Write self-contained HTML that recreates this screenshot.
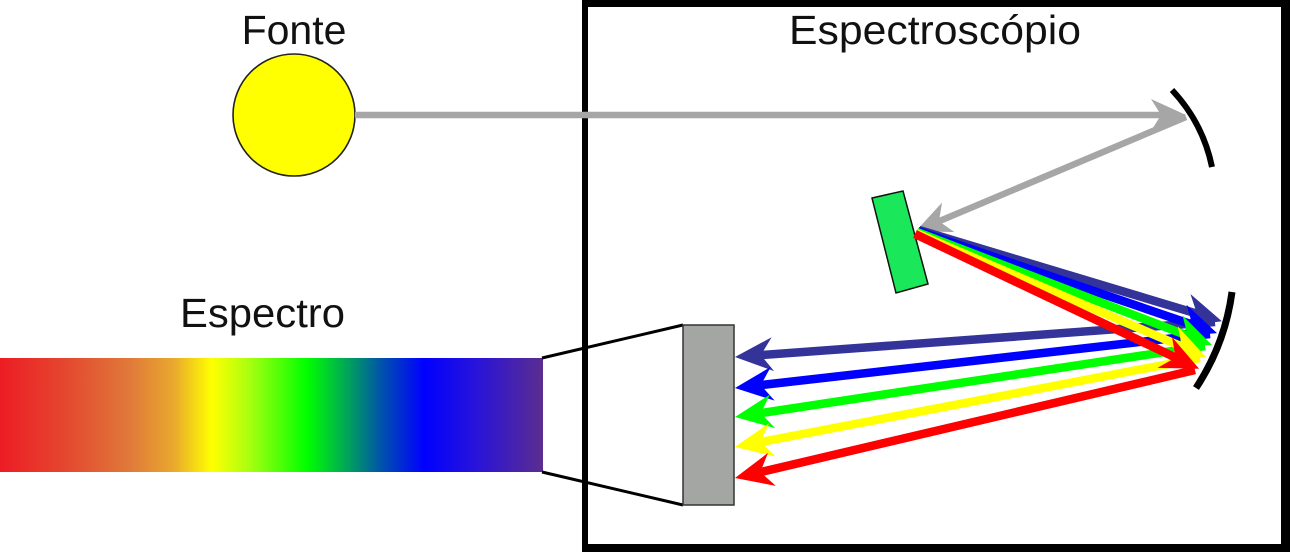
<!DOCTYPE html>
<html>
<head>
<meta charset="utf-8">
<style>
html,body{margin:0;padding:0;background:#fff;}
body{width:1290px;height:552px;overflow:hidden;}
svg{display:block;}
text{font-family:"Liberation Sans",Arial,sans-serif;fill:#111;}
</style>
</head>
<body>
<svg width="1290" height="552" viewBox="0 0 1290 552" xmlns="http://www.w3.org/2000/svg">
<defs>
  <linearGradient id="spec" x1="0" y1="0" x2="1" y2="0">
    <stop offset="0" stop-color="#ed1c24"/>
    <stop offset="0.12" stop-color="#e4472f"/>
    <stop offset="0.24" stop-color="#e07a3a"/>
    <stop offset="0.32" stop-color="#e9a82e"/>
    <stop offset="0.39" stop-color="#ffff00"/>
    <stop offset="0.46" stop-color="#a8ff10"/>
    <stop offset="0.565" stop-color="#00ff00"/>
    <stop offset="0.64" stop-color="#00a45a"/>
    <stop offset="0.70" stop-color="#0055a8"/>
    <stop offset="0.78" stop-color="#0000ff"/>
    <stop offset="0.88" stop-color="#2a14d8"/>
    <stop offset="1" stop-color="#5b2d8f"/>
  </linearGradient>
  <marker id="mNavy" markerUnits="userSpaceOnUse" markerWidth="80" markerHeight="80" viewBox="-40 -40 80 80" refX="0" refY="0" orient="auto" overflow="visible">
    <path d="M26,0 L-12,-17 L0,0 L-12,17 Z" fill="#333399"/>
  </marker>
  <marker id="mBlue" markerUnits="userSpaceOnUse" markerWidth="80" markerHeight="80" viewBox="-40 -40 80 80" refX="0" refY="0" orient="auto" overflow="visible">
    <path d="M26,0 L-12,-17 L0,0 L-12,17 Z" fill="#0000ff"/>
  </marker>
  <marker id="mGreen" markerUnits="userSpaceOnUse" markerWidth="80" markerHeight="80" viewBox="-40 -40 80 80" refX="0" refY="0" orient="auto" overflow="visible">
    <path d="M26,0 L-12,-17 L0,0 L-12,17 Z" fill="#00ff00"/>
  </marker>
  <marker id="mYellow" markerUnits="userSpaceOnUse" markerWidth="80" markerHeight="80" viewBox="-40 -40 80 80" refX="0" refY="0" orient="auto" overflow="visible">
    <path d="M26,0 L-12,-17 L0,0 L-12,17 Z" fill="#ffff00"/>
  </marker>
  <marker id="mRed" markerUnits="userSpaceOnUse" markerWidth="80" markerHeight="80" viewBox="-40 -40 80 80" refX="0" refY="0" orient="auto" overflow="visible">
    <path d="M26,0 L-12,-17 L0,0 L-12,17 Z" fill="#ff0000"/>
  </marker>
  <marker id="mGray" markerUnits="userSpaceOnUse" markerWidth="80" markerHeight="80" viewBox="-40 -40 80 80" refX="0" refY="0" orient="auto" overflow="visible">
    <path d="M25,0 L-10,-16 L0,0 L-10,16 Z" fill="#a6a6a6"/>
  </marker>
</defs>

<!-- Spectrum -->
<rect x="0" y="358" width="543" height="114" fill="url(#spec)"/>

<!-- Trapezoid lines -->
<line x1="542" y1="358" x2="683" y2="325" stroke="#000" stroke-width="3"/>
<line x1="542" y1="472" x2="683" y2="505" stroke="#000" stroke-width="3"/>

<!-- Box border -->
<rect x="582" y="0" width="708" height="7" fill="#000"/>
<rect x="582" y="0" width="6" height="552" fill="#000"/>
<rect x="1281" y="0" width="9" height="552" fill="#000"/>
<rect x="582" y="544" width="708" height="8" fill="#000"/>

<!-- Labels -->
<text x="294" y="44" font-size="41" text-anchor="middle">Fonte</text>
<text x="789" y="44" font-size="41" textLength="292" lengthAdjust="spacingAndGlyphs">Espectroscópio</text>
<text x="180" y="327" font-size="41" textLength="165" lengthAdjust="spacingAndGlyphs">Espectro</text>

<!-- Sun -->
<circle cx="294" cy="115" r="61" fill="#ffff00" stroke="#222" stroke-width="1.6"/>

<!-- Gray rays -->
<line x1="355" y1="115" x2="1161" y2="115" stroke="#a6a6a6" stroke-width="6.5" marker-end="url(#mGray)"/>
<line x1="1186" y1="117" x2="939" y2="221.3" stroke="#a6a6a6" stroke-width="6.5" marker-end="url(#mGray)"/>

<!-- Grating -->
<polygon points="872,198 903,191 928,284 896,293" fill="#1ae85a" stroke="#111" stroke-width="1.5"/>

<!-- Detector -->
<rect x="683" y="325" width="51" height="180" fill="#a3a6a3" stroke="#333" stroke-width="1.5"/>

<!-- Outgoing rays (mirror 2 to detector) -->
<line x1="1215" y1="322" x2="760.9" y2="355.1" stroke="#333399" stroke-width="8.5" marker-end="url(#mNavy)"/>
<line x1="1210" y1="334" x2="760.8" y2="385.1" stroke="#0000ff" stroke-width="8.5" marker-end="url(#mBlue)"/>
<line x1="1205" y1="346" x2="760.7" y2="413.1" stroke="#00ff00" stroke-width="8.5" marker-end="url(#mGreen)"/>
<line x1="1200" y1="358" x2="760.5" y2="442.1" stroke="#ffff00" stroke-width="8.5" marker-end="url(#mYellow)"/>
<line x1="1195" y1="370" x2="760.3" y2="472.1" stroke="#ff0000" stroke-width="8.5" marker-end="url(#mRed)"/>

<!-- Incoming rays (grating to mirror 2) -->
<line x1="919" y1="230" x2="1197" y2="313.7" stroke="#333399" stroke-width="8.5" marker-end="url(#mNavy)"/>
<line x1="918" y1="231" x2="1192.4" y2="324.7" stroke="#0000ff" stroke-width="8.5" marker-end="url(#mBlue)"/>
<line x1="917" y1="232" x2="1187.7" y2="335.7" stroke="#00ff00" stroke-width="8.5" marker-end="url(#mGreen)"/>
<line x1="916" y1="233" x2="1182.1" y2="346.7" stroke="#ffff00" stroke-width="8.5" marker-end="url(#mYellow)"/>
<line x1="915" y1="234" x2="1175.6" y2="357.6" stroke="#ff0000" stroke-width="8.5" marker-end="url(#mRed)"/>

<!-- Mirrors -->
<path d="M1172,90 Q1203,123 1212,167" fill="none" stroke="#000" stroke-width="6"/>
<path d="M1232,292 Q1225,344 1196,388" fill="none" stroke="#000" stroke-width="7"/>
</svg>
</body>
</html>
